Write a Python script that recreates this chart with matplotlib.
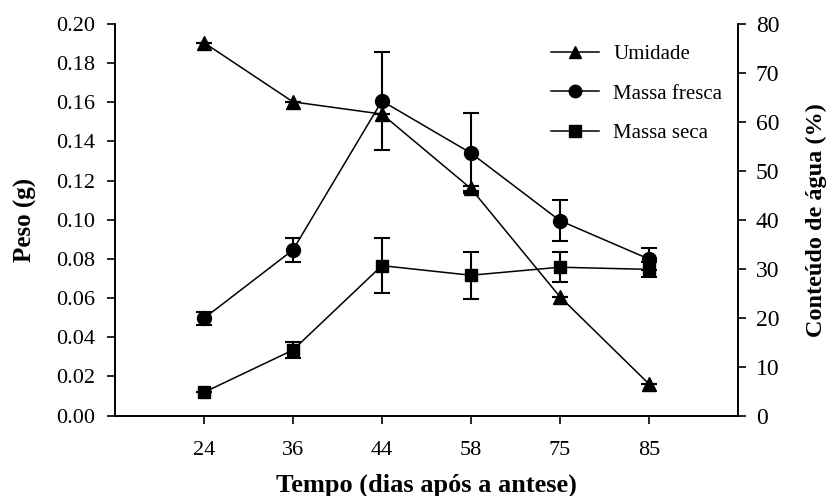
import matplotlib
matplotlib.use("Agg")
import matplotlib.pyplot as plt
from matplotlib.lines import Line2D
import numpy as np

plt.rcParams['font.family'] = ['Liberation Serif', 'DejaVu Serif']

dias = ['24', '36', '44', '58', '75', '85']
umidade = [76.2, 64.1, 61.6, 46.4, 24.3, 6.5]
umidade_err = [0, 0, 0, 0.6, 0, 0]
fresca = [0.0497, 0.0846, 0.1607, 0.1341, 0.0996, 0.0800]
fresca_err = [0.0033, 0.0060, 0.0250, 0.0203, 0.0106, 0.0057]
seca = [0.0119, 0.0335, 0.0766, 0.0717, 0.0758, 0.0747]
seca_err = [0.0, 0.0042, 0.0142, 0.0119, 0.0076, 0.0040]

x = np.arange(1, len(dias) + 1)

fig = plt.figure(figsize=(8.29, 4.96), dpi=100)
ax = fig.add_axes([0.1387, 0.162, 0.7513, 0.7896])
ax2 = ax.twinx()

ekw = dict(color='k', lw=1.1, capsize=5.5, elinewidth=1.5, capthick=1.5)
ax2.errorbar(x, umidade, yerr=umidade_err, marker='^', ms=10, **ekw)
ax.errorbar(x, fresca, yerr=fresca_err, marker='o', ms=10, **ekw)
ax.errorbar(x, seca, yerr=seca_err, marker='s', ms=9, **ekw)

ax.set_xlim(0, 7)
ax.set_ylim(0, 0.20)
ax.set_yticks(np.arange(0, 0.201, 0.02))
ax.set_yticklabels(['%.2f' % v for v in np.arange(0, 0.201, 0.02)])
ax2.set_ylim(0, 80)
ax2.set_yticks(range(0, 81, 10))
ax.set_xticks(x)
ax.set_xticklabels(dias)

for a in (ax, ax2):
    a.spines['top'].set_visible(False)
    for s in a.spines.values():
        s.set_linewidth(1.2)
    a.tick_params(direction='out', length=6, width=1.2, labelsize=16)
ax.tick_params(axis='x', pad=12)
ax.tick_params(axis='y', pad=8)
ax2.tick_params(axis='y', pad=7, labelsize=17)

ax.set_ylabel('Peso (g)', fontsize=18, fontweight='bold', labelpad=14)
ax2.set_ylabel('Conteúdo de água (%)', fontsize=17.5, fontweight='bold', labelpad=19)
ax.set_xlabel('Tempo (dias após a antese)', fontsize=19, fontweight='bold', labelpad=10)

handles = [Line2D([], [], color='k', lw=1.1, marker='^', ms=9),
           Line2D([], [], color='k', lw=1.1, marker='o', ms=9),
           Line2D([], [], color='k', lw=1.1, marker='s', ms=8)]
ax2.legend(handles, ['Umidade', 'Massa fresca', 'Massa seca'],
           loc='upper right', bbox_to_anchor=(1.005, 0.995), frameon=False,
           fontsize=15, labelspacing=0.95, handlelength=2.3, handletextpad=0.7)

fig.savefig('out.png', dpi=100)
